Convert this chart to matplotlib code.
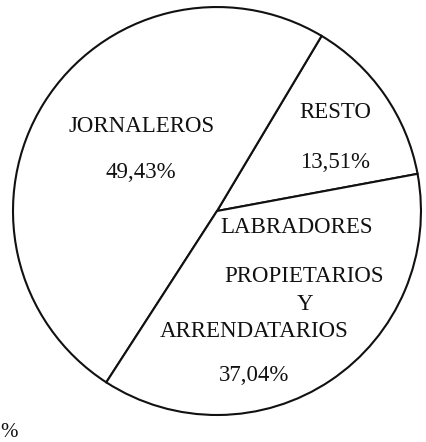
import matplotlib
matplotlib.use("Agg")
import matplotlib.pyplot as plt

# Slices (counter-clockwise from the right edge)
categories = ["RESTO", "JORNALEROS", "LABRADORES"]
extra_lines = ["PROPIETARIOS", "Y", "ARRENDATARIOS"]
shares = [13.51, 49.43, 37.04]
pct_labels = ["13,51%", "49,43%", "37,04%"]

plt.rcParams["font.family"] = ["Liberation Serif", "DejaVu Serif"]

fig = plt.figure(figsize=(4.26, 4.42), dpi=100)
ax = fig.add_axes([0.0305, 0.0611, 0.9577, 0.923])

ax.pie(shares, startangle=10.5, counterclock=True, radius=1.0,
       colors=["white"] * 3,
       wedgeprops=dict(edgecolor="#111111", linewidth=1.5))
ax.set_xlim(-1, 1)
ax.set_ylim(-1, 1)
ax.set_aspect("equal")
ax.axis("off")

txt = dict(ha="center", va="center", fontsize=16.5, color="#111111")
# RESTO
ax.text(0.580, 0.485, categories[0], **txt)
ax.text(0.580, 0.240, pct_labels[0], **txt)
# JORNALEROS
ax.text(-0.372, 0.412, categories[1], **txt)
ax.text(-0.372, 0.191, pct_labels[1], **txt)
# LABRADORES PROPIETARIOS Y ARRENDATARIOS
ax.text(0.392, -0.083, categories[2], **txt)
ax.text(0.427, -0.319, extra_lines[0], **txt)
ax.text(0.432, -0.456, extra_lines[1], **txt)
ax.text(0.181, -0.593, extra_lines[2], **txt)
ax.text(0.181, -0.804, pct_labels[2], **txt)

# cropped fragment from the scanned page
fig.text(0.0, 0.022, "%", ha="left", va="center", fontsize=15, color="#111111")

fig.savefig("out.png", dpi=100, facecolor="white")
